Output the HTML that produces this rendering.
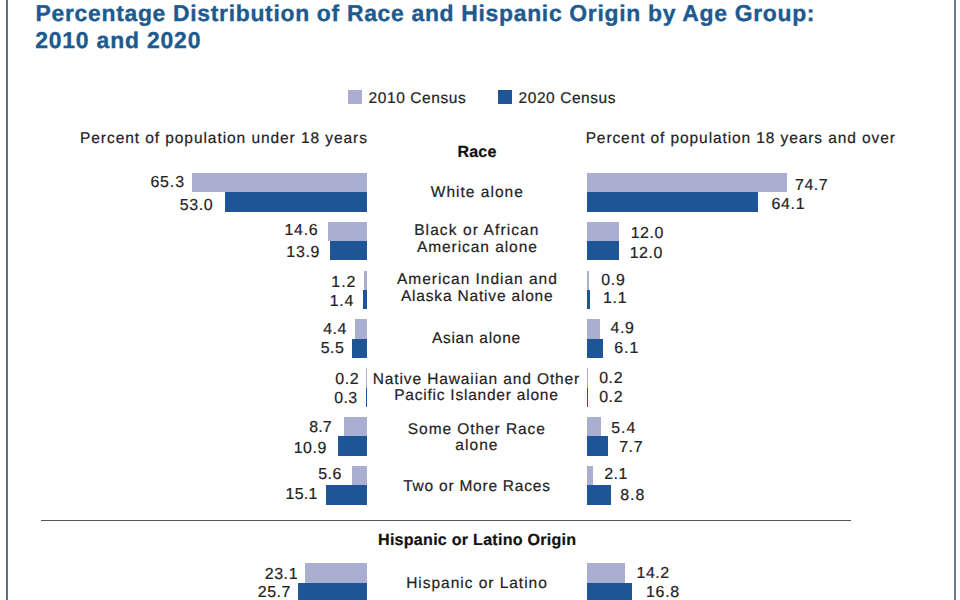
<!DOCTYPE html>
<html><head><meta charset="utf-8"><style>
html,body{margin:0;padding:0;background:#fff;}
body{width:960px;height:600px;position:relative;overflow:hidden;font-family:"Liberation Sans", sans-serif;}
.r{position:absolute;}
.t{position:absolute;white-space:nowrap;text-rendering:geometricPrecision;}
</style></head><body>
<div class="r" style="left:6.00px;top:0.00px;width:2.00px;height:600.00px;background:#607080"></div>
<div class="r" style="left:954.00px;top:0.00px;width:2.00px;height:600.00px;background:#6a7b8b"></div>
<div class="r" style="left:348.00px;top:90.00px;width:14.00px;height:14.00px;background:#aaaed0"></div>
<div class="r" style="left:497.50px;top:90.00px;width:14.00px;height:14.00px;background:#1d5596"></div>
<div class="r" style="left:192.32px;top:172.80px;width:174.48px;height:19.40px;background:#aaaed0"></div>
<div class="r" style="left:225.18px;top:192.20px;width:141.62px;height:19.40px;background:#1d5596"></div>
<div class="r" style="left:587.00px;top:172.80px;width:199.60px;height:19.40px;background:#aaaed0"></div>
<div class="r" style="left:587.00px;top:192.20px;width:171.28px;height:19.40px;background:#1d5596"></div>
<div class="r" style="left:327.79px;top:221.65px;width:39.01px;height:19.40px;background:#aaaed0"></div>
<div class="r" style="left:329.66px;top:241.05px;width:37.14px;height:19.40px;background:#1d5596"></div>
<div class="r" style="left:587.00px;top:221.65px;width:32.06px;height:19.40px;background:#aaaed0"></div>
<div class="r" style="left:587.00px;top:241.05px;width:32.06px;height:19.40px;background:#1d5596"></div>
<div class="r" style="left:363.59px;top:270.50px;width:3.21px;height:19.40px;background:#aaaed0"></div>
<div class="r" style="left:363.06px;top:289.90px;width:3.74px;height:19.40px;background:#1d5596"></div>
<div class="r" style="left:587.00px;top:270.50px;width:2.40px;height:19.40px;background:#aaaed0"></div>
<div class="r" style="left:587.00px;top:289.90px;width:2.94px;height:19.40px;background:#1d5596"></div>
<div class="r" style="left:355.04px;top:319.35px;width:11.76px;height:19.40px;background:#aaaed0"></div>
<div class="r" style="left:352.10px;top:338.75px;width:14.70px;height:19.40px;background:#1d5596"></div>
<div class="r" style="left:587.00px;top:319.35px;width:13.09px;height:19.40px;background:#aaaed0"></div>
<div class="r" style="left:587.00px;top:338.75px;width:16.30px;height:19.40px;background:#1d5596"></div>
<div class="r" style="left:366.00px;top:368.20px;width:0.80px;height:19.40px;background:#aaaed0"></div>
<div class="r" style="left:366.00px;top:387.60px;width:0.80px;height:19.40px;background:#1d5596"></div>
<div class="r" style="left:587.00px;top:368.20px;width:0.80px;height:19.40px;background:#aaaed0"></div>
<div class="r" style="left:587.00px;top:387.60px;width:0.80px;height:19.40px;background:#1d5596"></div>
<div class="r" style="left:343.55px;top:417.05px;width:23.25px;height:19.40px;background:#aaaed0"></div>
<div class="r" style="left:337.68px;top:436.45px;width:29.12px;height:19.40px;background:#1d5596"></div>
<div class="r" style="left:587.00px;top:417.05px;width:14.43px;height:19.40px;background:#aaaed0"></div>
<div class="r" style="left:587.00px;top:436.45px;width:20.57px;height:19.40px;background:#1d5596"></div>
<div class="r" style="left:351.84px;top:465.90px;width:14.96px;height:19.40px;background:#aaaed0"></div>
<div class="r" style="left:326.45px;top:485.30px;width:40.35px;height:19.40px;background:#1d5596"></div>
<div class="r" style="left:587.00px;top:465.90px;width:5.61px;height:19.40px;background:#aaaed0"></div>
<div class="r" style="left:587.00px;top:485.30px;width:23.51px;height:19.40px;background:#1d5596"></div>
<div class="r" style="left:305.08px;top:563.20px;width:61.72px;height:19.40px;background:#aaaed0"></div>
<div class="r" style="left:298.13px;top:582.60px;width:68.67px;height:19.40px;background:#1d5596"></div>
<div class="r" style="left:587.00px;top:563.20px;width:37.94px;height:19.40px;background:#aaaed0"></div>
<div class="r" style="left:587.00px;top:582.60px;width:44.89px;height:19.40px;background:#1d5596"></div>
<div class="r" style="left:40.50px;top:520.00px;width:810.00px;height:1.20px;background:#555"></div>
<div class="t" style="left:35.61px;top:1.67px;font-size:22.90px;line-height:22.90px;letter-spacing:0.696px;font-weight:700;color:#1d5a8f;-webkit-text-stroke:0.35px #1d5a8f">Percentage Distribution of Race and Hispanic Origin by Age Group:</div>
<div class="t" style="left:35.14px;top:28.65px;font-size:22.90px;line-height:22.90px;letter-spacing:0.836px;font-weight:700;color:#1d5a8f;-webkit-text-stroke:0.35px #1d5a8f">2010 and 2020</div>
<div class="t" style="left:368.57px;top:91.17px;font-size:15.51px;line-height:15.51px;letter-spacing:0.592px;font-weight:400;color:#232323;-webkit-text-stroke:0.2px #232323">2010 Census</div>
<div class="t" style="left:518.57px;top:91.17px;font-size:15.51px;line-height:15.51px;letter-spacing:0.557px;font-weight:400;color:#232323;-webkit-text-stroke:0.2px #232323">2020 Census</div>
<div class="t" style="left:80.04px;top:131.11px;font-size:15.51px;line-height:15.51px;letter-spacing:0.934px;font-weight:400;color:#232323;-webkit-text-stroke:0.2px #232323">Percent of population under 18 years</div>
<div class="t" style="left:585.64px;top:131.11px;font-size:15.51px;line-height:15.51px;letter-spacing:0.905px;font-weight:400;color:#232323;-webkit-text-stroke:0.2px #232323">Percent of population 18 years and over</div>
<div class="t" style="left:457.47px;top:144.06px;font-size:16.09px;line-height:16.09px;letter-spacing:0.171px;font-weight:700;color:#111;-webkit-text-stroke:0.2px #111">Race</div>
<div class="t" style="left:430.83px;top:184.89px;font-size:15.51px;line-height:15.51px;letter-spacing:1.009px;font-weight:400;color:#232323;-webkit-text-stroke:0.2px #232323">White alone</div>
<div class="t" style="left:414.16px;top:222.67px;font-size:15.51px;line-height:15.51px;letter-spacing:1.103px;font-weight:400;color:#232323;-webkit-text-stroke:0.2px #232323">Black or African</div>
<div class="t" style="left:416.89px;top:239.67px;font-size:15.51px;line-height:15.51px;letter-spacing:0.943px;font-weight:400;color:#232323;-webkit-text-stroke:0.2px #232323">American alone</div>
<div class="t" style="left:396.92px;top:271.67px;font-size:15.51px;line-height:15.51px;letter-spacing:0.985px;font-weight:400;color:#232323;-webkit-text-stroke:0.2px #232323">American Indian and</div>
<div class="t" style="left:400.92px;top:289.11px;font-size:15.51px;line-height:15.51px;letter-spacing:0.820px;font-weight:400;color:#232323;-webkit-text-stroke:0.2px #232323">Alaska Native alone</div>
<div class="t" style="left:431.89px;top:331.17px;font-size:15.51px;line-height:15.51px;letter-spacing:0.723px;font-weight:400;color:#232323;-webkit-text-stroke:0.2px #232323">Asian alone</div>
<div class="t" style="left:372.74px;top:371.67px;font-size:15.51px;line-height:15.51px;letter-spacing:0.888px;font-weight:400;color:#232323;-webkit-text-stroke:0.2px #232323">Native Hawaiian and Other</div>
<div class="t" style="left:394.16px;top:388.17px;font-size:15.51px;line-height:15.51px;letter-spacing:0.778px;font-weight:400;color:#232323;-webkit-text-stroke:0.2px #232323">Pacific Islander alone</div>
<div class="t" style="left:407.86px;top:421.53px;font-size:15.51px;line-height:15.51px;letter-spacing:0.923px;font-weight:400;color:#232323;-webkit-text-stroke:0.2px #232323">Some Other Race</div>
<div class="t" style="left:455.27px;top:438.03px;font-size:15.51px;line-height:15.51px;letter-spacing:1.065px;font-weight:400;color:#232323;-webkit-text-stroke:0.2px #232323">alone</div>
<div class="t" style="left:403.20px;top:478.53px;font-size:15.51px;line-height:15.51px;letter-spacing:0.770px;font-weight:400;color:#232323;-webkit-text-stroke:0.2px #232323">Two or More Races</div>
<div class="t" style="left:378.03px;top:532.42px;font-size:16.09px;line-height:16.09px;letter-spacing:0.251px;font-weight:700;color:#111;-webkit-text-stroke:0.2px #111">Hispanic or Latino Origin</div>
<div class="t" style="left:406.16px;top:575.67px;font-size:15.51px;line-height:15.51px;letter-spacing:0.973px;font-weight:400;color:#232323;-webkit-text-stroke:0.2px #232323">Hispanic or Latino</div>
<div class="t" style="left:150.38px;top:175.25px;font-size:15.94px;line-height:15.94px;letter-spacing:0.875px;font-weight:400;color:#232323;-webkit-text-stroke:0.2px #232323">65.3</div>
<div class="t" style="left:179.81px;top:197.75px;font-size:15.94px;line-height:15.94px;letter-spacing:0.602px;font-weight:400;color:#232323;-webkit-text-stroke:0.2px #232323">53.0</div>
<div class="t" style="left:795.06px;top:178.11px;font-size:15.94px;line-height:15.94px;letter-spacing:0.476px;font-weight:400;color:#232323;-webkit-text-stroke:0.2px #232323">74.7</div>
<div class="t" style="left:771.54px;top:197.47px;font-size:15.94px;line-height:15.94px;letter-spacing:0.661px;font-weight:400;color:#232323;-webkit-text-stroke:0.2px #232323">64.1</div>
<div class="t" style="left:284.50px;top:223.03px;font-size:15.94px;line-height:15.94px;letter-spacing:0.718px;font-weight:400;color:#232323;-webkit-text-stroke:0.2px #232323">14.6</div>
<div class="t" style="left:286.36px;top:244.97px;font-size:15.94px;line-height:15.94px;letter-spacing:0.700px;font-weight:400;color:#232323;-webkit-text-stroke:0.2px #232323">13.9</div>
<div class="t" style="left:630.67px;top:226.25px;font-size:15.94px;line-height:15.94px;letter-spacing:0.597px;font-weight:400;color:#232323;-webkit-text-stroke:0.2px #232323">12.0</div>
<div class="t" style="left:629.68px;top:245.61px;font-size:15.94px;line-height:15.94px;letter-spacing:0.581px;font-weight:400;color:#232323;-webkit-text-stroke:0.2px #232323">12.0</div>
<div class="t" style="left:331.36px;top:275.47px;font-size:15.94px;line-height:15.94px;letter-spacing:0.986px;font-weight:400;color:#232323;-webkit-text-stroke:0.2px #232323">1.2</div>
<div class="t" style="left:329.68px;top:293.75px;font-size:15.94px;line-height:15.94px;letter-spacing:0.756px;font-weight:400;color:#232323;-webkit-text-stroke:0.2px #232323">1.4</div>
<div class="t" style="left:601.14px;top:272.97px;font-size:15.94px;line-height:15.94px;letter-spacing:0.767px;font-weight:400;color:#232323;-webkit-text-stroke:0.2px #232323">0.9</div>
<div class="t" style="left:603.04px;top:291.25px;font-size:15.94px;line-height:15.94px;letter-spacing:0.662px;font-weight:400;color:#232323;-webkit-text-stroke:0.2px #232323">1.1</div>
<div class="t" style="left:323.25px;top:321.97px;font-size:15.94px;line-height:15.94px;letter-spacing:0.455px;font-weight:400;color:#232323;-webkit-text-stroke:0.2px #232323">4.4</div>
<div class="t" style="left:320.68px;top:341.11px;font-size:15.94px;line-height:15.94px;letter-spacing:0.539px;font-weight:400;color:#232323;-webkit-text-stroke:0.2px #232323">5.5</div>
<div class="t" style="left:610.46px;top:320.61px;font-size:15.94px;line-height:15.94px;letter-spacing:0.688px;font-weight:400;color:#232323;-webkit-text-stroke:0.2px #232323">4.9</div>
<div class="t" style="left:614.33px;top:340.61px;font-size:15.94px;line-height:15.94px;letter-spacing:0.903px;font-weight:400;color:#232323;-webkit-text-stroke:0.2px #232323">6.1</div>
<div class="t" style="left:335.16px;top:372.46px;font-size:15.94px;line-height:15.94px;letter-spacing:0.676px;font-weight:400;color:#232323;-webkit-text-stroke:0.2px #232323">0.2</div>
<div class="t" style="left:334.16px;top:390.61px;font-size:15.94px;line-height:15.94px;letter-spacing:0.455px;font-weight:400;color:#232323;-webkit-text-stroke:0.2px #232323">0.3</div>
<div class="t" style="left:599.14px;top:371.25px;font-size:15.94px;line-height:15.94px;letter-spacing:0.622px;font-weight:400;color:#232323;-webkit-text-stroke:0.2px #232323">0.2</div>
<div class="t" style="left:599.14px;top:389.97px;font-size:15.94px;line-height:15.94px;letter-spacing:0.621px;font-weight:400;color:#232323;-webkit-text-stroke:0.2px #232323">0.2</div>
<div class="t" style="left:309.22px;top:419.97px;font-size:15.94px;line-height:15.94px;letter-spacing:0.106px;font-weight:400;color:#232323;-webkit-text-stroke:0.2px #232323">8.7</div>
<div class="t" style="left:293.70px;top:440.61px;font-size:15.94px;line-height:15.94px;letter-spacing:0.533px;font-weight:400;color:#232323;-webkit-text-stroke:0.2px #232323">10.9</div>
<div class="t" style="left:611.17px;top:421.25px;font-size:15.94px;line-height:15.94px;letter-spacing:1.080px;font-weight:400;color:#232323;-webkit-text-stroke:0.2px #232323">5.4</div>
<div class="t" style="left:619.14px;top:439.97px;font-size:15.94px;line-height:15.94px;letter-spacing:0.615px;font-weight:400;color:#232323;-webkit-text-stroke:0.2px #232323">7.7</div>
<div class="t" style="left:318.18px;top:467.47px;font-size:15.94px;line-height:15.94px;letter-spacing:0.522px;font-weight:400;color:#232323;-webkit-text-stroke:0.2px #232323">5.6</div>
<div class="t" style="left:285.55px;top:487.47px;font-size:15.94px;line-height:15.94px;letter-spacing:0.282px;font-weight:400;color:#232323;-webkit-text-stroke:0.2px #232323">15.1</div>
<div class="t" style="left:604.14px;top:467.47px;font-size:15.94px;line-height:15.94px;letter-spacing:0.569px;font-weight:400;color:#232323;-webkit-text-stroke:0.2px #232323">2.1</div>
<div class="t" style="left:620.14px;top:488.11px;font-size:15.94px;line-height:15.94px;letter-spacing:1.033px;font-weight:400;color:#232323;-webkit-text-stroke:0.2px #232323">8.8</div>
<div class="t" style="left:264.68px;top:567.47px;font-size:15.94px;line-height:15.94px;letter-spacing:0.608px;font-weight:400;color:#232323;-webkit-text-stroke:0.2px #232323">23.1</div>
<div class="t" style="left:257.82px;top:585.03px;font-size:15.94px;line-height:15.94px;letter-spacing:0.523px;font-weight:400;color:#232323;-webkit-text-stroke:0.2px #232323">25.7</div>
<div class="t" style="left:636.55px;top:565.97px;font-size:15.94px;line-height:15.94px;letter-spacing:0.481px;font-weight:400;color:#232323;-webkit-text-stroke:0.2px #232323">14.2</div>
<div class="t" style="left:645.97px;top:585.11px;font-size:15.94px;line-height:15.94px;letter-spacing:0.749px;font-weight:400;color:#232323;-webkit-text-stroke:0.2px #232323">16.8</div>
</body></html>
